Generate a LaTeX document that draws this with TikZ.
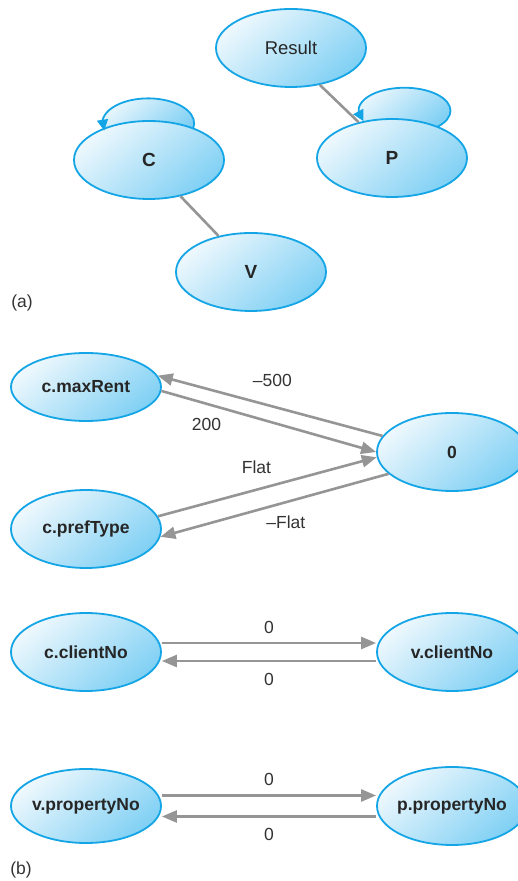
\documentclass[tikz,border=0pt]{standalone}
\usepackage{fontspec}
\setmainfont{Liberation Sans}
\usetikzlibrary{arrows.meta,bending,shapes.geometric,backgrounds}
\definecolor{ovalline}{HTML}{14A5E6}
\definecolor{ovallight}{HTML}{EEF8FD}
\definecolor{ovaldark}{HTML}{80D0F4}
\definecolor{edgegray}{HTML}{959595}

\begin{document}
\begin{tikzpicture}[
  x=1pt, y=1pt,
  font=\fontsize{17}{20}\selectfont,
  oval/.style={ellipse, draw=ovalline, line width=1.8pt, top color=ovallight, bottom color=ovaldark, shading angle=40, minimum width=150pt, minimum height=78pt, inner sep=-6pt, text=black!85, font=\fontsize{17.5}{20}\selectfont\bfseries},
  link/.style={edgegray, line width=2.6pt},
  arr/.style={link, -{Triangle[length=15pt, width=12pt]}},
  loopfill/.style={top color=ovallight, bottom color=ovaldark, shading angle=40},
  selfloop/.style={draw=ovalline, line width=1.8pt, -{Triangle[length=11pt, width=11pt, flex]}},
  lbl/.style={font=\fontsize{17.5}{20}\selectfont, text=black!80},
  tag/.style={font=\fontsize{17.5}{20}\selectfont, text=black!80},
]
\useasboundingbox (0,0) rectangle (517,881);

% (a) query graph
\node[oval, font=\fontsize{18.5}{20}\selectfont] (res) at (291,833) {Result};
\node[oval, font=\fontsize{19}{20}\selectfont\bfseries] (cN) at (149,721) {C};
\node[oval, font=\fontsize{19}{20}\selectfont\bfseries] (pN) at (392,723) {P};
\node[oval, font=\fontsize{19}{20}\selectfont\bfseries] (vN) at (251,609) {V};
\begin{scope}[on background layer]
\shade[loopfill] ([xshift=42pt, yshift=28pt]cN.center) arc[start angle=-20, end angle=197, x radius=46pt, y radius=25pt];
\shade[loopfill] ([xshift=45pt, yshift=31pt]pN.center) arc[start angle=-45, end angle=207, x radius=46pt, y radius=23pt];
\end{scope}
% self loops
\draw[selfloop] ([xshift=44pt, yshift=31pt]cN.center) arc[start angle=-13, end angle=197, x radius=46pt, y radius=25pt];
\draw[selfloop] ([xshift=45pt, yshift=31pt]pN.center) arc[start angle=-45, end angle=207, x radius=46pt, y radius=23pt];
\draw[link] (res.-52) -- (pN.133);
\draw[link] (cN.-49) -- (vN.132);
\node[tag] (taga) at (22,578) {(a)};

% (b) normalized attribute connection graph
\node[oval, minimum height=68pt] (maxrent) at (86,494) {c.maxRent};
\node[oval] (zero)     at (452,429) {0};
\node[oval] (preftype) at (86,352)  {c.prefType};
\draw[arr] (zero.167) -- (maxrent.9) node[lbl, pos=0.49, yshift=26pt] {–500};
\draw[arr] (maxrent.-3) -- (zero.west) node[lbl, pos=0.21, yshift=-21pt] {200};
\draw[arr] (preftype.10) -- (zero.184) node[lbl, pos=0.45, yshift=22pt] {Flat};
\draw[arr] (zero.199) -- (preftype.354) node[lbl, pos=0.45, yshift=-20pt] {–Flat};

\node[oval] (cclient) at (86,229)  {c.clientNo};
\node[oval] (vclient) at (452,229) {v.clientNo};
\draw[arr] ([yshift=9pt]cclient.east) -- ([yshift=9pt]vclient.west) node[lbl, midway, yshift=16pt] {0};
\draw[arr] ([yshift=-9pt]vclient.west) -- ([yshift=-9pt]cclient.east) node[lbl, midway, yshift=-18pt] {0};

\node[oval, minimum height=74pt] (vprop) at (86,75)  {v.propertyNo};
\node[oval] (pprop) at (452,75) {p.propertyNo};
\draw[arr] ([yshift=10.5pt]vprop.east) -- ([yshift=10.5pt]pprop.west) node[lbl, midway, yshift=16pt] {0};
\draw[arr] ([yshift=-10.5pt]pprop.west) -- ([yshift=-10.5pt]vprop.east) node[lbl, midway, yshift=-18pt] {0};
\node[tag] (tagb) at (21,11) {(b)};
\end{tikzpicture}
\end{document}
